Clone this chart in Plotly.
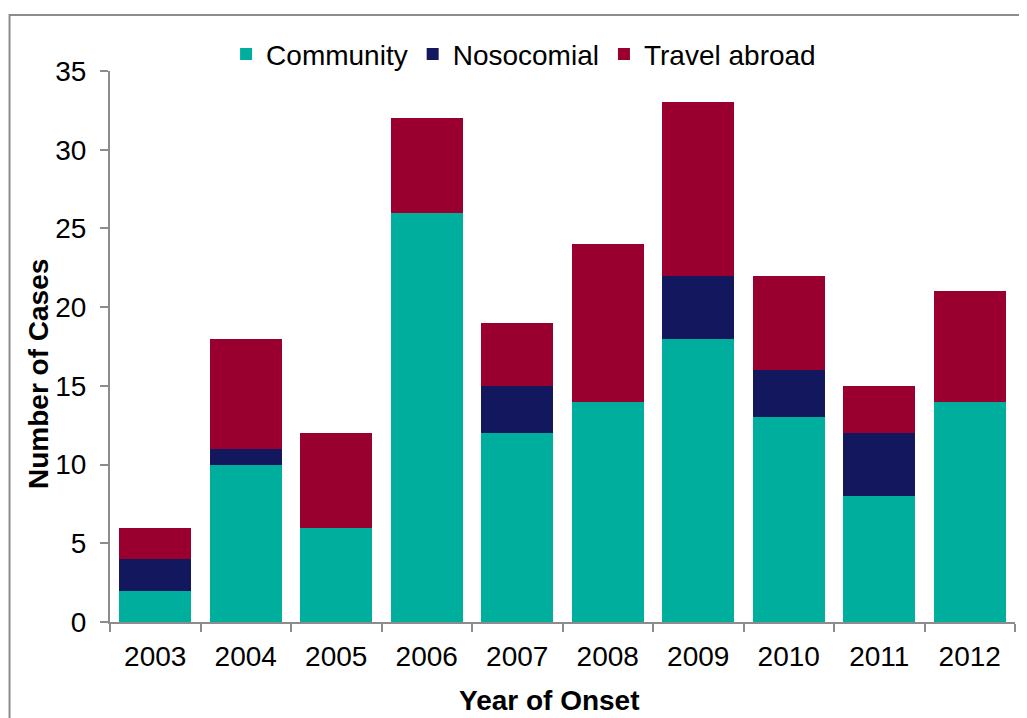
import plotly.graph_objects as go

years = ["2003", "2004", "2005", "2006", "2007", "2008", "2009", "2010", "2011", "2012"]
community = [2, 10, 6, 26, 12, 14, 18, 13, 8, 14]
nosocomial = [2, 1, 0, 0, 3, 0, 4, 3, 4, 0]
travel = [2, 7, 6, 6, 4, 10, 11, 6, 3, 7]

series = [
    ("Community", community, "#00AE9D"),
    ("Nosocomial", nosocomial, "#12175E"),
    ("Travel abroad", travel, "#990030"),
]

fig = go.Figure()
for name, vals, color in series:
    fig.add_trace(go.Bar(x=years, y=vals, name=name, marker=dict(color=color, line=dict(width=0))))

font = "Liberation Sans, Arial, sans-serif"
axis_color = "#8C8C8C"
fig.update_layout(
    barmode="stack",
    bargap=0.2,
    width=1027,
    height=718,
    margin=dict(l=102, r=20, t=63, b=104, autoexpand=False),
    paper_bgcolor="white",
    plot_bgcolor="white",
    font=dict(family=font, size=28, color="black"),
    showlegend=True,
    legend=dict(orientation="h", x=0.457, xanchor="center", y=0.985, yanchor="bottom",
                font=dict(size=28), traceorder="normal", itemwidth=30, tracegroupgap=0,
                bgcolor="rgba(0,0,0,0)"),
    xaxis=dict(
        showline=True, linecolor=axis_color, linewidth=2,
        ticks="outside", ticklen=8, tickcolor=axis_color, tickwidth=2,
        tickson="boundaries", showgrid=False, ticklabelstandoff=8,
    ),
    yaxis=dict(
        range=[0, 35], dtick=5, showline=True, linecolor=axis_color, linewidth=2,
        ticks="outside", ticklen=8, tickcolor=axis_color, tickwidth=2,
        showgrid=False, zeroline=False, ticklabelstandoff=8,
    ),
    annotations=[
        dict(text="<b>Year of Onset</b>", xref="paper", yref="paper", x=0.486, y=-0.1416,
             xanchor="center", yanchor="middle", showarrow=False, font=dict(size=28)),
        dict(text="<b>Number of Cases</b>", xref="paper", yref="paper", x=-0.0796, y=0.45,
             xanchor="center", yanchor="middle", textangle=-90, showarrow=False, font=dict(size=28)),
    ],
    shapes=[dict(type="rect", xref="paper", yref="paper",
                 x0=-0.111, x1=1.1, y0=-0.4, y1=1.1016,
                 line=dict(color="#8C8C8C", width=2), fillcolor="rgba(0,0,0,0)", layer="below")],
)

fig.write_html("out.html")
